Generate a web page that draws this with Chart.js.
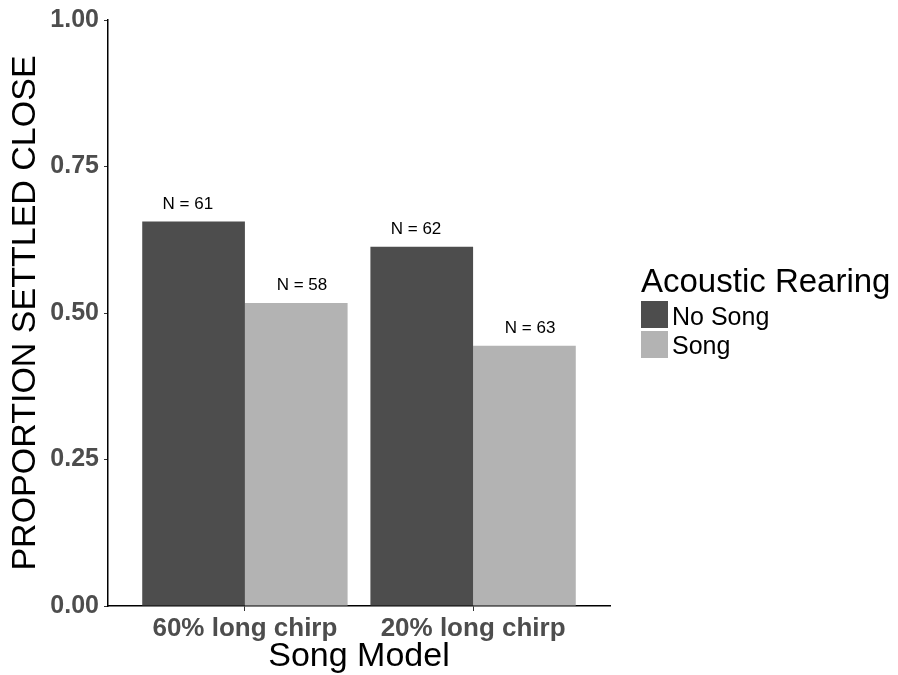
<!DOCTYPE html>
<html>
<head>
<meta charset="utf-8">
<script src="https://cdn.jsdelivr.net/npm/chart.js@4"></script>
<style>
  body { margin: 0; background: #fff; }
  #wrap { position: relative; width: 898px; height: 675px; }
  #legend { position: absolute; left: 0; top: 0; font-family: "Liberation Sans", Arial, sans-serif; color: #000; }
  #legend .title { position: absolute; left: 641px; top: 264px; font-size: 33px; line-height: 1; white-space: nowrap; }
  #legend .box { position: absolute; left: 641px; width: 27px; height: 27px; }
  #legend .lab { position: absolute; left: 672px; font-size: 25px; line-height: 1; white-space: nowrap; }
</style>
</head>
<body>
<div id="wrap">
  <canvas id="chart"></canvas>
  <div id="legend"></div>
</div>
<script>
// data
const categories  = ['60% long chirp', '20% long chirp'];
const seriesNames = ['No Song', 'Song'];
const noSongProp  = [0.656, 0.613];
const songProp    = [0.517, 0.444];
const noSongN     = [61, 62];
const songN       = [58, 63];
const yTicks      = [0, 0.25, 0.5, 0.75, 1];

const colors = ['#4d4d4d', '#b3b3b3'];
const FONT = '"Liberation Sans", Arial, sans-serif';

const toPoints = arr => arr.map((v, i) => ({ x: i + 1, y: v }));
const counts = [noSongN, songN];

// "N = xx" above each bar
const nLabels = {
  id: 'nLabels',
  afterDatasetsDraw(chart) {
    const ctx = chart.ctx;
    const xs = chart.scales.x;
    ctx.save();
    ctx.font = '17px ' + FONT;
    ctx.fillStyle = '#000';
    ctx.textAlign = 'center';
    ctx.textBaseline = 'alphabetic';
    chart.data.datasets.forEach((ds, d) => {
      chart.getDatasetMeta(d).data.forEach((bar, i) => {
        const x = xs.getPixelForValue(i + 1 + (d - 0.5) * 0.5);
        ctx.fillText('N = ' + counts[d][i], x, bar.y - 13);
      });
    });
    ctx.restore();
  }
};

new Chart(document.getElementById('chart'), {
  type: 'bar',
  data: {
    datasets: [
      { label: seriesNames[0], data: toPoints(noSongProp), backgroundColor: colors[0] },
      { label: seriesNames[1], data: toPoints(songProp),   backgroundColor: colors[1] }
    ]
  },
  options: {
    responsive: true,
    maintainAspectRatio: false,
    animation: false,
    layout: { padding: { top: 20, right: 288, left: 0, bottom: 0 } },
    datasets: { bar: { categoryPercentage: 0.9, barPercentage: 1.0, borderWidth: 0 } },
    plugins: { legend: { display: false }, tooltip: { enabled: false } },
    scales: {
      x: {
        type: 'linear',
        min: 0.4, max: 2.6,
        offset: false,
        afterBuildTicks: s => { s.ticks = categories.map((c, i) => ({ value: i + 1 })); },
        afterFit: s => { s.height = 69; },
        ticks: {
          autoSkip: false, maxRotation: 0, padding: 2,
          color: '#4d4d4d', font: { family: FONT, size: 26, weight: 'bold' },
          callback: v => categories[Math.round(v) - 1]
        },
        grid: { display: true, offset: false, drawOnChartArea: false, drawTicks: true, tickLength: 5, color: '#333' },
        border: { display: true, color: '#000', width: 1.5 },
        title: { display: true, text: 'Song Model', color: '#000',
                 font: { family: FONT, size: 34, lineHeight: 1 }, padding: { top: 0, bottom: 1 } }
      },
      y: {
        min: 0, max: 1,
        afterBuildTicks: s => { s.ticks = yTicks.map(v => ({ value: v })); },
        afterFit: s => { s.width = 108; },
        ticks: {
          padding: 5,
          color: '#4d4d4d', font: { family: FONT, size: 25, weight: 'bold' },
          callback: v => v.toFixed(2)
        },
        grid: { display: true, drawOnChartArea: false, drawTicks: true, tickLength: 4, color: '#333' },
        border: { display: true, color: '#000', width: 1.5 },
        title: { display: true, text: 'PROPORTION SETTLED CLOSE', color: '#000',
                 font: { family: FONT, size: 34 }, padding: { top: 5, bottom: 0 } }
      }
    }
  },
  plugins: [nLabels]
});

// legend
const legend = document.getElementById('legend');
let html = '<div class="title">Acoustic Rearing</div>';
seriesNames.forEach((name, i) => {
  html += `<div class="box" style="top:${301 + i * 30}px;background:${colors[i]}"></div>`;
  html += `<div class="lab" style="top:${304 + i * 29}px">${name}</div>`;
});
legend.innerHTML = html;
</script>
</body>
</html>
